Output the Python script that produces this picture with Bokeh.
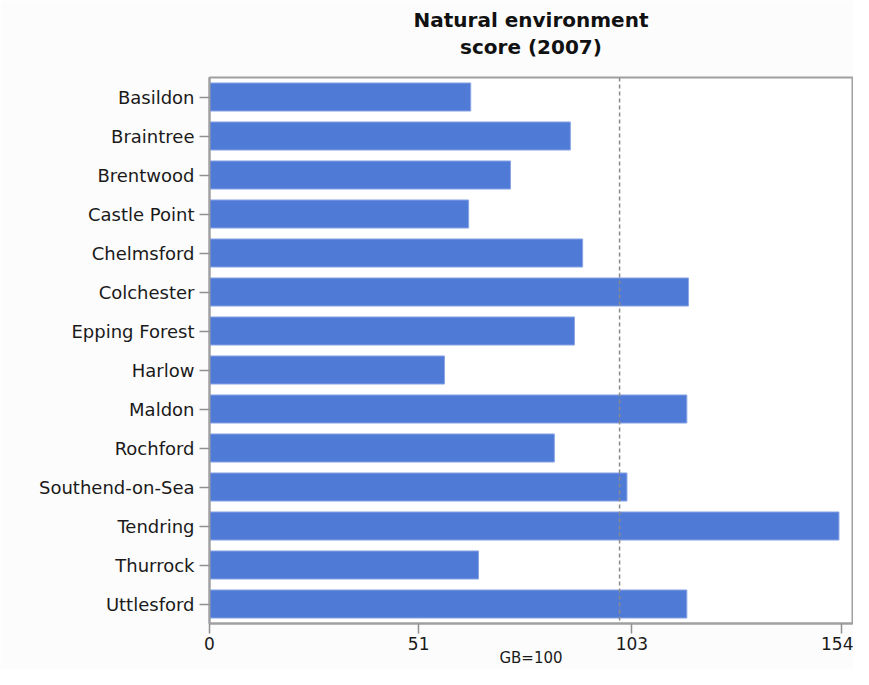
from bokeh.plotting import figure
from bokeh.models import Range1d, FactorRange, FixedTicker, Span, Title, LinearAxis
from bokeh.embed import file_html
from bokeh.resources import INLINE

districts = ["Basildon", "Braintree", "Brentwood", "Castle Point", "Chelmsford",
             "Colchester", "Epping Forest", "Harlow", "Maldon", "Rochford",
             "Southend-on-Sea", "Tendring", "Thurrock", "Uttlesford"]
scores = [63.7, 88.0, 73.4, 63.2, 91.0, 116.8, 89.0, 57.3, 116.4, 84.1,
          101.8, 153.5, 65.6, 116.4]
x_ticks = [0, 51, 103, 154]
gb_average = 100
title_lines = ["Natural environment", "score (2007)"]
x_label = "GB=100"

p = figure(width=853, height=669, output_backend="svg", toolbar_location=None,
           y_range=FactorRange(factors=list(reversed(districts)), range_padding=0),
           x_range=Range1d(0, 156.8),
           min_border_left=209, min_border_right=1, min_border_top=77,
           min_border_bottom=40)

p.hbar(y=districts, right=scores, left=0, height=0.72,
       fill_color="#4f7ad6", line_color="#8aa6e6", line_width=1)

p.add_layout(Span(location=gb_average, dimension="height", line_color="#8a8a8a",
                  line_dash="4 3", line_width=1.5))

# invisible spacer between the title block and the plot frame
spacer = LinearAxis(ticker=FixedTicker(ticks=[0]), axis_line_color=None,
                    major_tick_line_color=None, minor_tick_line_color=None,
                    major_tick_out=18, major_tick_in=0, minor_tick_out=0,
                    major_label_standoff=0, major_label_overrides={0: ""},
                    major_label_text_font_size="1px")
p.add_layout(spacer, "above")

def style_title(t, standoff):
    t.align = "center"
    t.text_font = "DejaVu Sans"
    t.text_font_size = "20px"
    t.text_font_style = "bold"
    t.text_color = "#111111"
    t.standoff = standoff

sub_title = Title(text=title_lines[1])
style_title(sub_title, 1)
p.add_layout(sub_title, "above")
p.title.text = title_lines[0]
style_title(p.title, 1)

p.background_fill_color = "#ffffff"
p.border_fill_color = "#fcfcfc"
p.outline_line_color = "#a0a0a0"
p.outline_line_width = 2
p.xgrid.visible = False
p.ygrid.visible = False

for ax in (p.below[0], p.left[0]):
    ax.axis_line_color = "#a0a0a0"
    ax.axis_line_width = 2
    ax.major_tick_line_color = "#909090"
    ax.major_tick_line_width = 1.5
    ax.major_tick_in = 0
    ax.minor_tick_line_color = None
    ax.major_label_text_font = "DejaVu Sans"
    ax.major_label_text_color = "#1a1a1a"

p.left[0].major_label_text_font_size = "18px"
p.left[0].major_tick_out = 10
p.left[0].major_label_standoff = 5

p.below[0].ticker = FixedTicker(ticks=x_ticks)
p.below[0].major_label_text_font_size = "17px"
p.below[0].major_tick_out = 10
p.below[0].major_label_standoff = 3
p.below[0].axis_label = x_label
p.below[0].axis_label_text_font = "DejaVu Sans"
p.below[0].axis_label_text_font_size = "15px"
p.below[0].axis_label_text_font_style = "normal"
p.below[0].axis_label_text_color = "#1a1a1a"
p.below[0].axis_label_standoff = -4

open("out.html", "w").write(file_html(p, INLINE))
